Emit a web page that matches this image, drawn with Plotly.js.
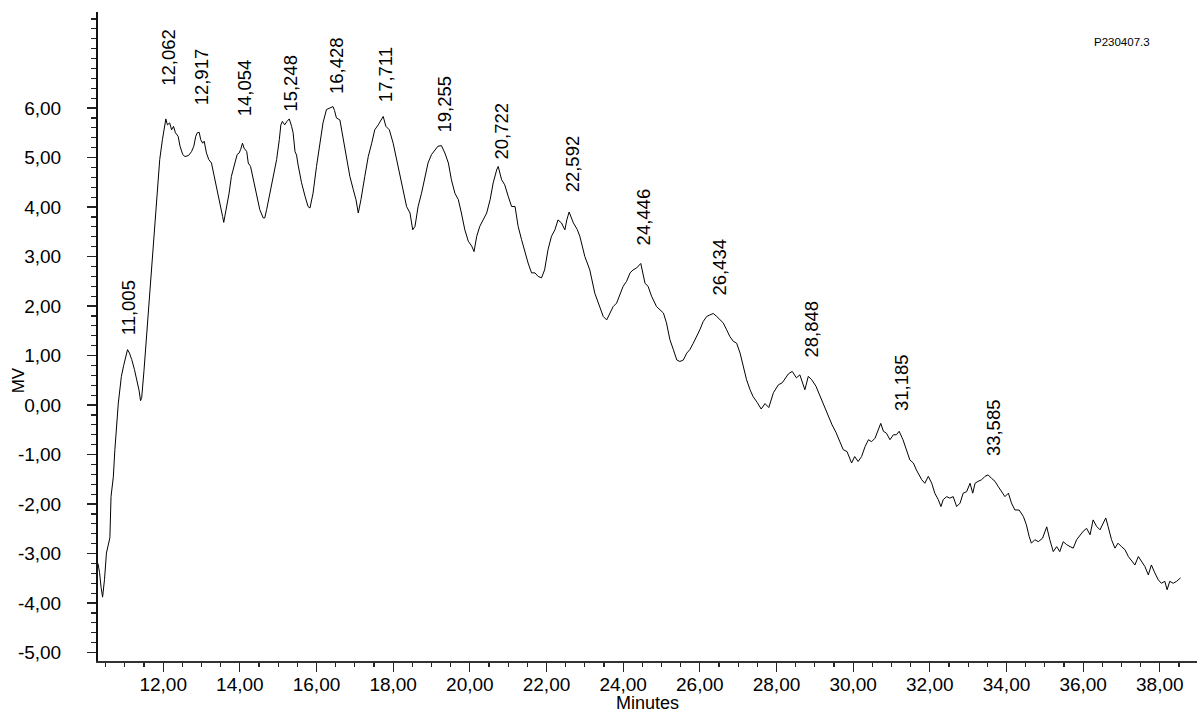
<!DOCTYPE html>
<html>
<head>
<meta charset="utf-8">
<script src="https://cdn.plot.ly/plotly-3.0.1.min.js"></script>
<style>html,body{margin:0;padding:0;background:#fff;}#chart{width:1197px;height:713px;}</style>
</head>
<body>
<div id="chart"></div>
<script>
// Chromatogram trace (minutes, MV)
const minutes = [
10.30,10.34,10.38,10.42,10.47,10.52,10.61,10.64,10.70,10.74,10.83,10.91,10.97,11.03,11.07,11.12,11.18,11.25,11.31,11.37,
11.41,11.44,11.50,11.54,11.61,11.70,11.74,11.83,11.91,11.98,12.04,12.07,12.11,12.17,12.22,12.27,12.32,12.39,12.44,12.51,
12.57,12.66,12.74,12.80,12.85,12.89,12.94,12.98,13.03,13.07,13.13,13.19,13.26,13.30,13.39,13.48,13.55,13.58,13.65,13.72,
13.78,13.87,13.93,13.98,14.02,14.07,14.11,14.18,14.22,14.28,14.35,14.44,14.52,14.61,14.65,14.70,14.78,14.87,14.96,15.03,
15.07,15.11,15.17,15.23,15.29,15.35,15.39,15.44,15.48,15.52,15.61,15.70,15.78,15.83,15.91,16.00,16.09,16.17,16.26,16.35,
16.43,16.47,16.52,16.61,16.70,16.78,16.87,16.96,17.03,17.09,17.16,17.26,17.35,17.44,17.52,17.61,17.70,17.74,17.81,17.90,
18.00,18.09,18.18,18.26,18.35,18.44,18.51,18.57,18.65,18.74,18.83,18.91,19.00,19.09,19.17,19.26,19.35,19.44,19.52,19.61,
19.70,19.78,19.87,19.96,20.05,20.11,20.18,20.26,20.35,20.44,20.53,20.61,20.70,20.74,20.83,20.91,21.00,21.09,21.18,21.26,
21.35,21.44,21.52,21.61,21.70,21.78,21.87,21.95,22.04,22.13,22.22,22.30,22.39,22.48,22.53,22.59,22.70,22.80,22.87,23.00,
23.13,23.26,23.39,23.48,23.57,23.65,23.74,23.83,23.92,24.00,24.09,24.18,24.26,24.35,24.46,24.57,24.65,24.74,24.87,24.96,
25.05,25.13,25.22,25.31,25.40,25.48,25.57,25.66,25.74,25.83,25.92,26.00,26.09,26.18,26.26,26.35,26.44,26.52,26.61,26.70,
26.78,26.87,26.96,27.05,27.13,27.22,27.31,27.39,27.50,27.60,27.70,27.80,27.92,28.05,28.15,28.31,28.41,28.52,28.61,28.74,
28.83,28.92,29.03,29.14,29.25,29.35,29.45,29.55,29.66,29.74,29.84,29.96,30.04,30.13,30.22,30.31,30.40,30.48,30.57,30.66,
30.72,30.79,30.87,30.96,31.05,31.13,31.20,31.30,31.39,31.48,31.57,31.65,31.79,31.87,31.96,32.05,32.13,32.22,32.29,32.35,
32.44,32.52,32.61,32.70,32.79,32.87,32.96,33.05,33.12,33.18,33.26,33.35,33.44,33.52,33.61,33.70,33.78,33.87,33.96,34.05,
34.13,34.22,34.33,34.44,34.52,34.59,34.65,34.74,34.83,34.94,35.05,35.13,35.22,35.31,35.39,35.48,35.57,35.66,35.74,35.83,
35.92,36.00,36.09,36.18,36.26,36.35,36.44,36.52,36.59,36.65,36.74,36.83,36.91,37.00,37.09,37.18,37.26,37.35,37.44,37.52,
37.61,37.70,37.78,37.87,37.96,38.04,38.13,38.19,38.26,38.35,38.44,38.54
];
const mv = [
-3.20,-3.38,-3.68,-3.88,-3.52,-2.99,-2.68,-1.85,-1.45,-0.90,0.04,0.58,0.80,0.98,1.12,1.05,0.92,0.72,0.51,0.30,
0.09,0.15,0.70,1.12,1.79,2.73,3.17,4.15,4.96,5.36,5.70,5.78,5.66,5.70,5.56,5.63,5.50,5.43,5.23,5.06,
5.02,5.04,5.12,5.23,5.43,5.50,5.51,5.36,5.29,5.33,5.09,4.96,4.89,4.75,4.42,4.08,3.81,3.69,3.95,4.28,
4.62,4.89,5.06,5.09,5.16,5.29,5.19,5.12,4.89,4.82,4.55,4.22,3.95,3.78,3.78,3.95,4.28,4.62,4.96,5.36,
5.66,5.73,5.66,5.73,5.78,5.63,5.50,5.12,5.05,4.85,4.49,4.22,4.01,3.98,4.28,4.82,5.29,5.70,5.97,6.00,
6.03,5.95,5.80,5.76,5.36,5.02,4.62,4.35,4.15,3.88,4.15,4.62,5.02,5.29,5.56,5.66,5.76,5.83,5.63,5.56,
5.29,4.96,4.69,4.35,4.01,3.88,3.54,3.61,4.01,4.28,4.62,4.89,5.06,5.16,5.23,5.24,5.09,4.89,4.55,4.28,
4.15,3.88,3.54,3.31,3.21,3.10,3.41,3.61,3.74,3.88,4.15,4.49,4.75,4.82,4.55,4.45,4.22,4.01,4.01,3.61,
3.34,3.07,2.87,2.67,2.67,2.60,2.57,2.73,3.14,3.41,3.54,3.74,3.68,3.54,3.74,3.90,3.68,3.55,3.41,3.00,
2.73,2.26,1.99,1.79,1.72,1.86,1.99,2.06,2.26,2.40,2.50,2.67,2.73,2.77,2.86,2.46,2.40,2.20,1.99,1.93,
1.86,1.66,1.32,1.12,0.91,0.88,0.91,1.05,1.12,1.25,1.39,1.52,1.69,1.79,1.82,1.85,1.79,1.72,1.66,1.52,
1.39,1.29,1.25,1.05,0.78,0.51,0.31,0.17,0.05,-0.08,0.03,-0.05,0.25,0.41,0.45,0.63,0.68,0.55,0.61,0.31,
0.58,0.51,0.38,0.17,0.00,-0.22,-0.40,-0.55,-0.74,-0.90,-0.94,-1.17,-1.04,-1.14,-1.04,-0.84,-0.70,-0.74,-0.67,-0.50,
-0.37,-0.53,-0.57,-0.70,-0.60,-0.60,-0.53,-0.70,-0.90,-1.11,-1.17,-1.31,-1.51,-1.58,-1.44,-1.58,-1.78,-1.91,-2.05,-1.91,
-1.85,-1.88,-1.85,-2.05,-1.98,-1.78,-1.75,-1.58,-1.78,-1.58,-1.54,-1.51,-1.44,-1.41,-1.48,-1.54,-1.64,-1.75,-1.85,-1.78,
-1.98,-2.12,-2.12,-2.25,-2.42,-2.65,-2.79,-2.72,-2.76,-2.69,-2.46,-2.72,-2.96,-2.86,-2.96,-2.76,-2.82,-2.86,-2.89,-2.72,
-2.62,-2.55,-2.49,-2.62,-2.32,-2.45,-2.52,-2.38,-2.28,-2.45,-2.72,-2.89,-2.79,-2.86,-2.92,-3.06,-3.13,-3.23,-3.06,-3.16,
-3.26,-3.43,-3.23,-3.39,-3.53,-3.60,-3.56,-3.73,-3.56,-3.60,-3.56,-3.49
];

// Peak annotations
const peakTimes = [11.005,12.062,12.917,14.054,15.248,16.428,17.711,19.255,20.722,22.592,24.446,26.434,28.848,31.185,33.585];
const peakLabels = ["11,005","12,062","12,917","14,054","15,248","16,428","17,711","19,255","20,722","22,592","24,446","26,434","28,848","31,185","33,585"];
const peakLabelY = [1.36,6.41,6.01,5.80,5.89,6.25,6.07,5.46,4.92,4.25,3.18,2.17,0.91,-0.16,-1.07];

// Axis ticks
const xTickVals = [12,14,16,18,20,22,24,26,28,30,32,34,36,38];
const xTickText = ["12,00","14,00","16,00","18,00","20,00","22,00","24,00","26,00","28,00","30,00","32,00","34,00","36,00","38,00"];
const yTickVals = [-5,-4,-3,-2,-1,0,1,2,3,4,5,6];
const yTickText = ["-5,00","-4,00","-3,00","-2,00","-1,00","0,00","1,00","2,00","3,00","4,00","5,00","6,00"];

const sampleName = "P230407.3";

const FONT = "Liberation Sans, Arial, Helvetica, sans-serif";

const trace = {
  type: 'scatter', mode: 'lines',
  x: minutes, y: mv,
  line: {color: '#000', width: 1},
  hoverinfo: 'skip'
};

const annotations = peakTimes.map((t, i) => ({
  x: t, y: peakLabelY[i], xref: 'x', yref: 'y',
  text: peakLabels[i], textangle: -90, showarrow: false,
  xanchor: 'center', yanchor: 'bottom', xshift: 3,
  font: {family: FONT, size: 18.5, color: '#000'}
}));
annotations.push({
  xref: 'paper', yref: 'paper', x: 0.9318, y: 0.9538,
  text: sampleName, showarrow: false, xanchor: 'center', yanchor: 'middle',
  font: {family: FONT, size: 11.5, color: '#000'}
});
annotations.push({
  xref: 'paper', yref: 'paper', x: -0.0723, y: 0.4317,
  text: 'MV', textangle: -90, showarrow: false, xanchor: 'center', yanchor: 'middle',
  font: {family: FONT, size: 17, color: '#000'}
});

const layout = {
  width: 1197, height: 713,
  margin: {l: 98, r: 0, t: 12, b: 52, pad: 0},
  paper_bgcolor: '#fff', plot_bgcolor: '#fff',
  showlegend: false,
  font: {family: FONT, color: '#000'},
  xaxis: {
    range: [10.3, 38.97],
    tickmode: 'array', tickvals: xTickVals, ticktext: xTickText,
    ticks: 'outside', ticklen: 9, tickwidth: 1.3, tickcolor: '#222',
    ticklabelstandoff: -4,
    minor: {tickmode: 'linear', tick0: 0, dtick: 0.5, ticks: 'outside', ticklen: 4, tickwidth: 1.2, tickcolor: '#222', showgrid: false},
    showline: true, linecolor: '#333', linewidth: 2,
    showgrid: false, zeroline: false,
    tickfont: {family: FONT, size: 19, color: '#000'},
    title: {text: 'Minutes', font: {family: FONT, size: 18, color: '#000'}, standoff: 5}
  },
  yaxis: {
    range: [-5.17, 7.94],
    tickmode: 'array', tickvals: yTickVals, ticktext: yTickText,
    ticks: 'outside', ticklen: 9, tickwidth: 1.3, tickcolor: '#222',
    ticklabelstandoff: 22,
    minor: {tickmode: 'linear', tick0: 0, dtick: 0.2, ticks: 'outside', ticklen: 5, tickwidth: 1.2, tickcolor: '#222', showgrid: false},
    showline: true, linecolor: '#111', linewidth: 2,
    showgrid: false, zeroline: false,
    tickfont: {family: FONT, size: 19, color: '#000'}
  },
  annotations: annotations
};

Plotly.newPlot('chart', [trace], layout, {staticPlot: true, displayModeBar: false});
</script>
</body>
</html>
